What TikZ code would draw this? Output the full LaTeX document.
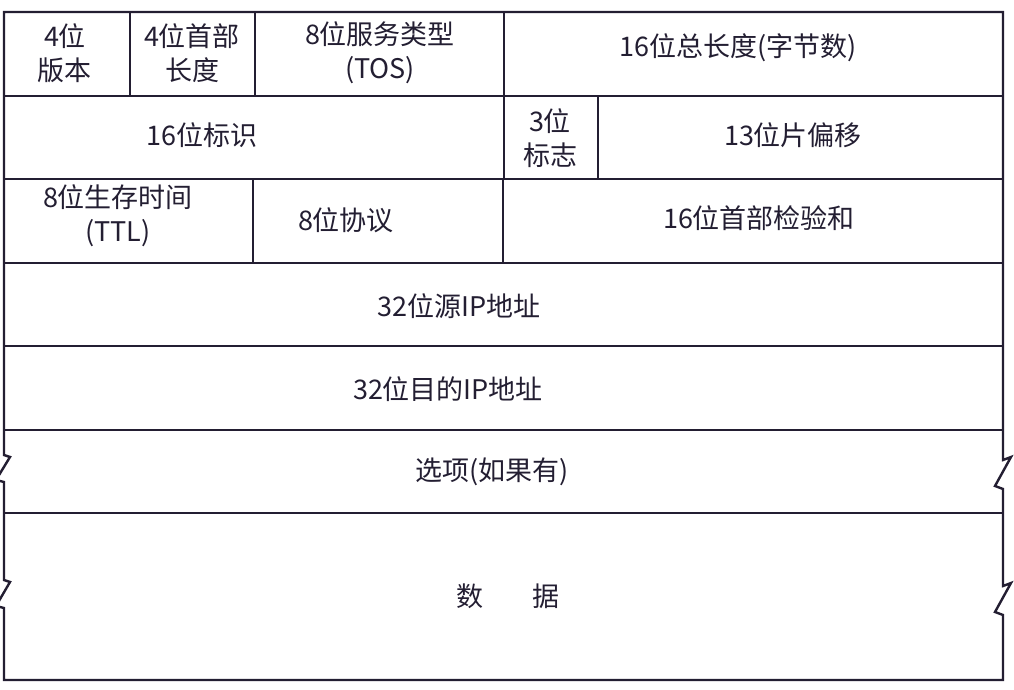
\documentclass[tikz,border=0pt]{standalone}
\usepackage{fontspec}
\setmainfont{Noto Sans CJK SC}
\definecolor{ink}{RGB}{35,30,50}
\begin{document}
\begin{tikzpicture}[x=0.5pt,y=-0.5pt,line width=1.2pt,draw=ink,
  txt/.style={font=\fontsize{13.5}{17}\selectfont,align=center,text=ink}]
\useasboundingbox (0,0) rectangle (1014,690);
\fill[white] (0,0) rectangle (1014,690);
% outer frame with breaks
\draw (4,12) -- (1003,12) -- (1003,460) -- (1011,457) -- (995,486) -- (1003,489)
  -- (1003,586) -- (1011,583) -- (995,612) -- (1003,615) -- (1003,680) -- (4,680)
  -- (4,608) -- (-4,606) -- (10,582) -- (4,580) -- (4,482) -- (-4,480) -- (10,457)
  -- (4,455) -- cycle;
\foreach \y in {96,179,263,346,430,513}
  \draw (4,\y) -- (1003,\y);
\draw (130,12) -- (130,96);
\draw (255,12) -- (255,96);
\draw (504,12) -- (504,179);
\draw (598,96) -- (598,179);
\draw (253,179) -- (253,263);
\draw (503,179) -- (503,263);
\node[txt] (ver) at (65,53) {4位\\版本};
\node[txt] (ihl) at (192,53) {4位首部\\长度};
\node[txt] (tos) at (380,53) {8位服务类型\\(TOS)};
\node[txt] (tlen) at (738,48) {16位总长度(字节数)};
\node[txt] (ident) at (202,135) {16位标识};
\node[txt] (flag) at (550,138) {3位\\标志};
\node[txt] (frag) at (793,135) {13位片偏移};
\node[txt] (ttl) at (118,216) {8位生存时间\\(TTL)};
\node[txt] (proto) at (346,220) {8位协议};
\node[txt] (csum) at (759,218) {16位首部检验和};
\node[txt] (src) at (459,306) {32位源IP地址};
\node[txt] (dst) at (448,389) {32位目的IP地址};
\node[txt] (opt) at (492,472) {选项(如果有)};
\node[txt] (data) at (508,596) {数\hspace{1.8em}据};
\end{tikzpicture}
\end{document}
